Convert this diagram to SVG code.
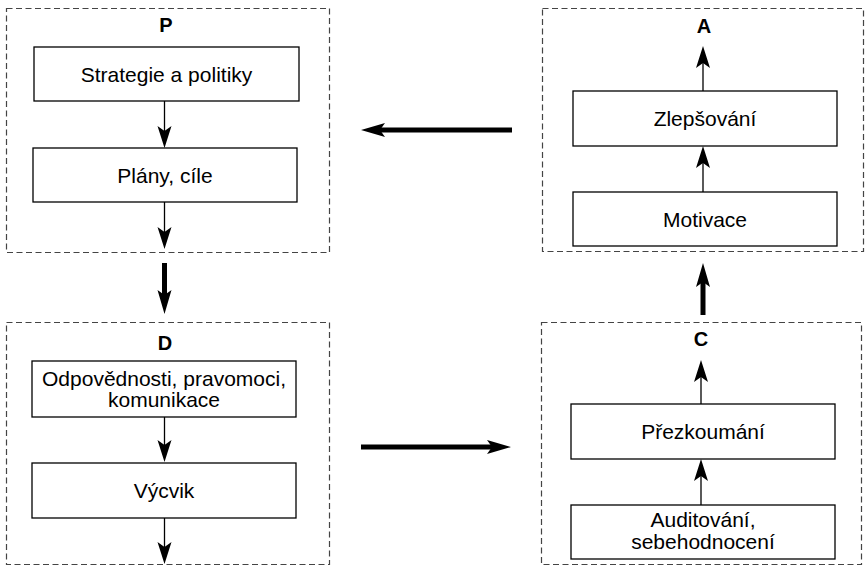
<svg xmlns="http://www.w3.org/2000/svg" width="866" height="567" viewBox="0 0 866 567">
<style>
.grp{fill:none;stroke:#444;stroke-width:1.2;stroke-dasharray:6 3.5}
.box{fill:#fff;stroke:#000;stroke-width:1.3}
.t{font-family:"Liberation Sans",Arial,sans-serif;font-size:21px;fill:#000;text-anchor:middle}
.h{font-family:"Liberation Sans",Arial,sans-serif;font-size:20px;font-weight:bold;fill:#000;text-anchor:middle}
.thin{stroke:#000;stroke-width:1.3;fill:none;marker-end:url(#ah)}
.thick{stroke:#000;stroke-width:5;fill:none;marker-end:url(#ahb)}
</style>
<defs>
<marker id="ah" markerUnits="userSpaceOnUse" markerWidth="22" markerHeight="14" refX="7" refY="7" orient="auto" overflow="visible">
<path d="M0,0 L22,7 L0,14 L5,7 Z" fill="#000"/>
</marker>
<marker id="ahb" markerUnits="userSpaceOnUse" markerWidth="24" markerHeight="14" refX="7" refY="7" orient="auto" overflow="visible">
<path d="M0,0 L24,7 L0,14 L5,7 Z" fill="#000"/>
</marker>
</defs>
<g id="group-P">
<rect class="grp" x="6.5" y="8.5" width="323" height="244"/>
<text class="h" x="166" y="32">P</text>
</g>
<g id="group-A">
<rect class="grp" x="542.5" y="8.5" width="321" height="243"/>
<text class="h" x="704" y="33">A</text>
</g>
<g id="group-D">
<rect class="grp" x="6.5" y="322.5" width="323" height="242"/>
<text class="h" x="165" y="350">D</text>
</g>
<g id="group-C">
<rect class="grp" x="541.5" y="322.5" width="320" height="242"/>
<text class="h" x="701" y="346">C</text>
</g>
<g id="n-strategie">
<rect class="box" x="34" y="47" width="265" height="54"/>
<text class="t" x="166.5" y="81.5">Strategie a politiky</text>
</g>
<g id="n-plany">
<rect class="box" x="33" y="148" width="264" height="54"/>
<text class="t" x="165" y="182.5">Plány, cíle</text>
</g>
<g id="n-odpovednosti">
<rect class="box" x="32" y="361" width="264" height="56"/>
<text class="t" x="164" y="386">Odpovědnosti, pravomoci,</text>
<text class="t" x="164" y="407">komunikace</text>
</g>
<g id="n-vycvik">
<rect class="box" x="32" y="463" width="264" height="55"/>
<text class="t" x="164" y="498">Výcvik</text>
</g>
<g id="n-zlepsovani">
<rect class="box" x="573" y="91" width="264" height="55"/>
<text class="t" x="705" y="126">Zlepšování</text>
</g>
<g id="n-motivace">
<rect class="box" x="573" y="192" width="264" height="54"/>
<text class="t" x="705" y="226.5">Motivace</text>
</g>
<g id="n-prezkoumani">
<rect class="box" x="571" y="404" width="264" height="55"/>
<text class="t" x="703" y="439">Přezkoumání</text>
</g>
<g id="n-auditovani">
<rect class="box" x="571" y="505" width="264" height="54"/>
<text class="t" x="703" y="527">Auditování,</text>
<text class="t" x="703" y="549">sebehodnocení</text>
</g>
<g id="connectors">
<line class="thin" x1="164.5" y1="101" x2="164.5" y2="133"/>
<line class="thin" x1="164.5" y1="202" x2="164.5" y2="234"/>
<line class="thin" x1="164.5" y1="417" x2="164.5" y2="447"/>
<line class="thin" x1="164.5" y1="518" x2="164.5" y2="549"/>
<line class="thin" x1="703" y1="91" x2="703" y2="61"/>
<line class="thin" x1="703" y1="192" x2="703" y2="161"/>
<line class="thin" x1="701" y1="404" x2="701" y2="375"/>
<line class="thin" x1="701" y1="505" x2="701" y2="474"/>
<line class="thick" x1="164.5" y1="263" x2="164.5" y2="297"/>
<line class="thick" x1="703" y1="315" x2="703" y2="280"/>
<line class="thick" x1="361" y1="447" x2="494" y2="447"/>
<line class="thick" x1="512" y1="130" x2="378" y2="130"/>
</g>
</svg>
